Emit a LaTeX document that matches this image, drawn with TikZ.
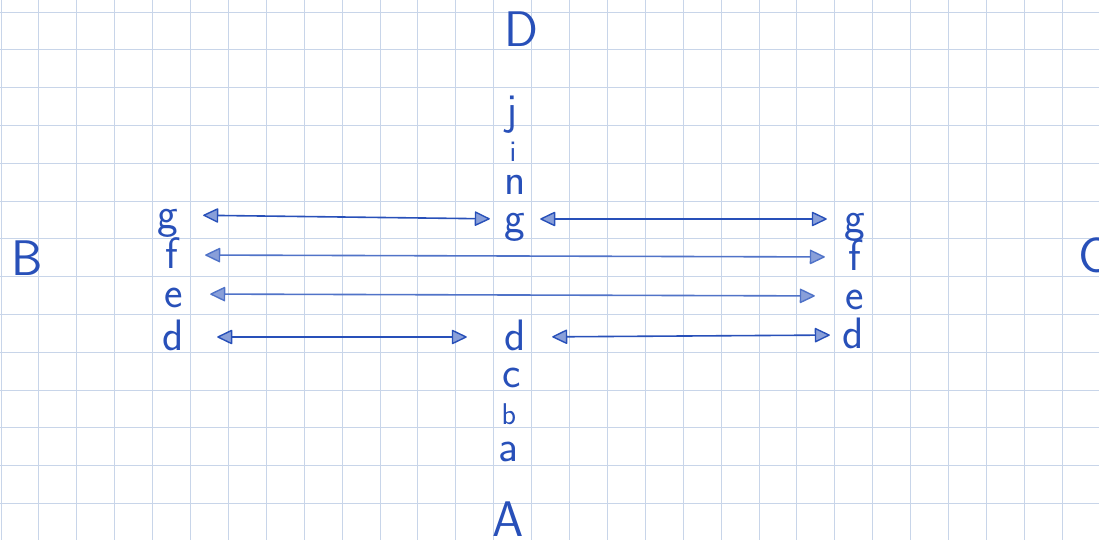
\documentclass[tikz,border=0pt]{standalone}
\usepackage{fontspec}
\usetikzlibrary{arrows.meta}
\definecolor{ink}{RGB}{40,80,185}
\definecolor{inklight}{RGB}{80,115,200}
\definecolor{gridc}{RGB}{200,213,233}
\tikzset{
  letter/.style={font=\fontsize{44}{44}\selectfont\sffamily, text=ink, inner sep=0pt,
    text width=24pt, align=center, text height=26pt, text depth=0pt, anchor=base},
  small/.style={font=\fontsize{30}{30}\selectfont\sffamily},
  capital/.style={font=\fontsize{50}{50}\selectfont\sffamily, text=ink, inner sep=0pt, anchor=base},
  conn/.style={draw=ink, line width=1.6pt, <->},
  connlight/.style={draw=inklight, line width=1.6pt, <->},
  >={Triangle[length=16pt,width=15pt,fill=ink!55,line width=1.4pt,round]}
}
\begin{document}
\begin{tikzpicture}[x=1pt,y=-1pt]
\useasboundingbox (0,0) rectangle (1099,540);
\fill[white] (0,0) rectangle (1099,540);
% graph paper
\foreach \k in {0,...,29} {\draw[gridc, line width=0.9pt] ({1+37.9*\k},0) -- ({1+37.9*\k},540);}
\foreach \k in {0,...,14} {\draw[gridc, line width=0.9pt] (0,{12+37.8*\k}) -- (1099,{12+37.8*\k});}
% capitals
\node[capital] (D) at (521,47) {D};
\node[capital] (A) at (508,536) {A};
\node[capital] (B) at (27,275) {B};
\node[capital] (C) at (1094,272) {C};
% middle column
\node[letter] (jM) at (512,125) {j};
\node[letter, small] (iM) at (513,162) {i};
\node[letter] (nM) at (515,194) {n};
\node[letter] (gM) at (515,232) {g};
\node[letter] (dM) at (515,350) {d};
\node[letter] (cM) at (512,387) {c};
\node[letter, small] (bM) at (509,424) {b};
\node[letter] (aM) at (508,461) {a};
% left column
\node[letter] (gL) at (168,228) {g};
\node[letter] (fL) at (172,268) {f};
\node[letter] (eL) at (174,307) {e};
\node[letter] (dL) at (173,350) {d};
% right column
\node[letter] (gR) at (855,232) {g};
\node[letter] (fR) at (855,270) {f};
\node[letter] (eR) at (855,309) {e};
\node[letter] (dR) at (853,348) {d};
% connectors
\draw[conn, shorten <=23pt, shorten >=13pt] (gL.east) -- (gM.west);
\draw[conn, shorten <=13pt, shorten >=16pt] (gM.east) -- (gR.west);
\draw[connlight, shorten <=21pt, shorten >=18pt] (fL.east) -- (fR.west);
\draw[connlight, shorten <=24pt, shorten >=28pt] (eL.east) -- (eR.west);
\draw[conn, shorten <=32pt, shorten >=36pt] (dL.east) -- (dM.west);
\draw[conn, shorten <=25pt, shorten >=11pt] (dM.east) -- (dR.west);
\end{tikzpicture}
\end{document}
